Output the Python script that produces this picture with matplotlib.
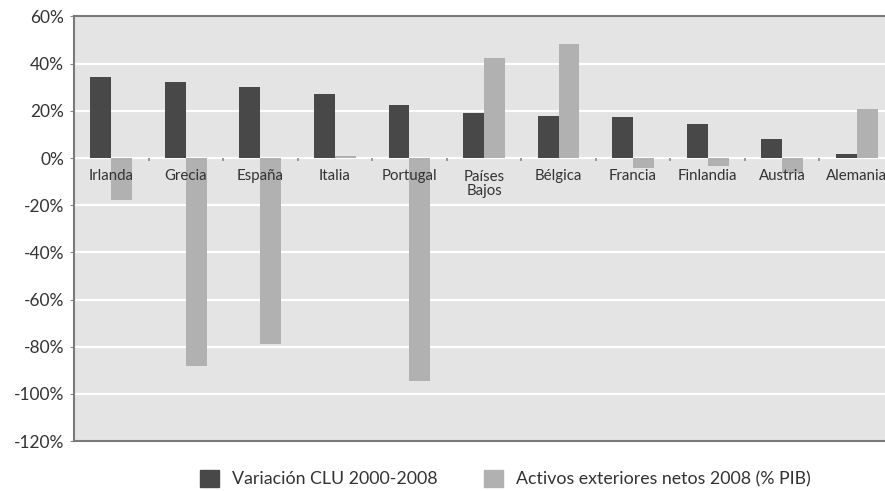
import numpy as np
import matplotlib.pyplot as plt
from matplotlib.patches import Patch

plt.rcParams['font.family'] = ['Lato', 'DejaVu Sans']

paises = ['Irlanda', 'Grecia', 'España', 'Italia', 'Portugal', 'Países\nBajos',
          'Bélgica', 'Francia', 'Finlandia', 'Austria', 'Alemania']
var_clu = [34.5, 32.1, 30.1, 27.0, 22.5, 19.0, 17.8, 17.3, 14.6, 8.2, 1.6]
activos = [-17.8, -88.2, -78.9, 0.8, -94.6, 42.5, 48.5, -4.1, -3.3, -6.5, 20.8]

c_oscuro = '#484848'
c_claro = '#b1b1b1'
fondo = '#e4e4e4'

fig = plt.figure(figsize=(8.85, 4.91), dpi=100)
# the plot runs a little past the right edge, so Alemania gets clipped
ax = fig.add_axes([0.0836, 0.1018, 0.9266, 0.8646])
ax.set_facecolor(fondo)

x = np.arange(len(paises))
w = 0.28
ax.bar(x - w / 2, var_clu, w, color=c_oscuro, zorder=3)
ax.bar(x + w / 2, activos, w, color=c_claro, zorder=3)

ax.set_ylim(-120, 60)
ax.set_xlim(-0.5, len(paises) - 0.5)
ax.set_yticks(np.arange(-120, 61, 20))
ax.set_yticklabels(['%d%%' % v for v in np.arange(-120, 61, 20)], fontsize=12.5, color='#333333')
ax.tick_params(axis='y', length=3, color='#888888', pad=4)
ax.set_xticks([])

for v in np.arange(-100, 60, 20):
    ax.axhline(v, color='white', lw=1.6, zorder=1)

# small separators along the zero line
ax.vlines(x[:-1] + 0.5, -1.2, 0, color='#888888', lw=1.2, zorder=4)

for i, p in enumerate(paises):
    yy = -7.6 if '\n' not in p else -11.2
    ax.text(i, yy, p, ha='center', va='center', fontsize=10.8, color='#333333',
            linespacing=1.0, zorder=5)

for s in ['top', 'left', 'bottom']:
    ax.spines[s].set_color('#7a7a7a')
    ax.spines[s].set_linewidth(1.5)
ax.spines['right'].set_visible(False)

handles = [Patch(color=c_oscuro, label='Variación CLU 2000-2008'),
           Patch(color=c_claro, label='Activos exteriores netos 2008 (% PIB)')]
fig.legend(handles=handles, loc='center', bbox_to_anchor=(0.571, 0.025), ncol=2,
           frameon=False, fontsize=12.8, handlelength=1.05, handleheight=1.05,
           columnspacing=2.6, handletextpad=0.75, labelcolor='#333333',
           borderpad=0)

fig.savefig('out.png', dpi=100)
